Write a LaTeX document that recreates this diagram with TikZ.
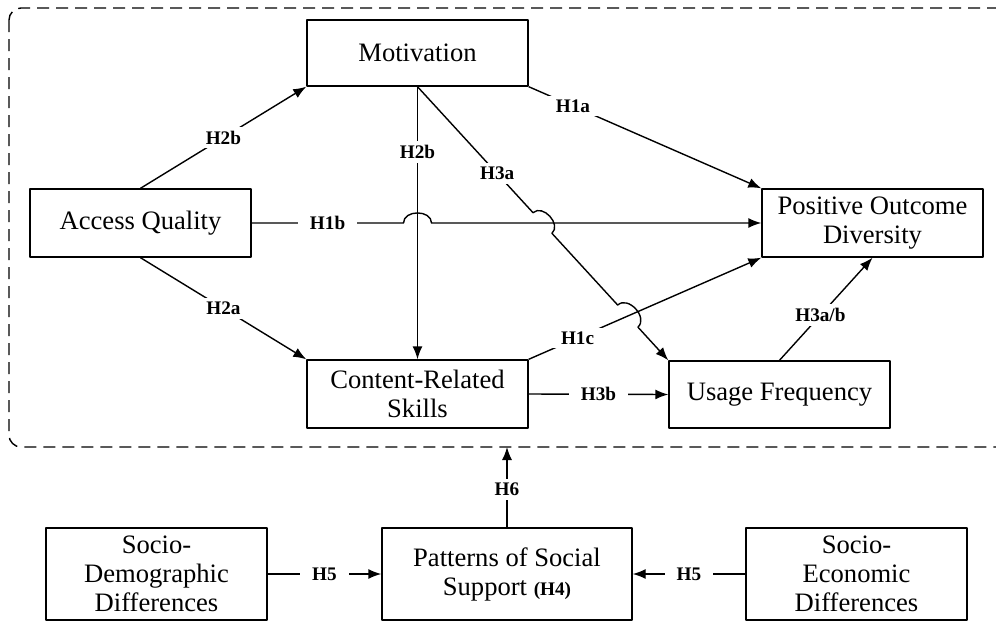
\documentclass[tikz,border=0pt]{standalone}
\usepackage{fontspec}
\setmainfont{Liberation Serif}
\usetikzlibrary{arrows.meta,calc}
\begin{document}
\begin{tikzpicture}[x=0.5pt, y=-0.5pt, line join=round, >={Latex[length=6.5pt,width=5pt]},
	box/.style={draw, line width=0.7pt, minimum width=110.5pt, align=center, inner sep=0pt, font=\fontsize{13.3}{14.5}\selectfont},
	lbl/.style={fill=white, inner xsep=6pt, inner ysep=2pt, font=\fontsize{9.6}{10}\selectfont\bfseries},
	conn/.style={line width=0.7pt}]
	\useasboundingbox (0,0) rectangle (996,621);
	\draw[line width=0.7pt, dash pattern=on 6pt off 3.5pt, rounded corners=6pt] (9,8) rectangle (1010,447);
	\coordinate (dbox) at (507,447);
	\node[box, minimum height=33pt] (mot) at (417.5,53) {Motivation};
	\node[box, minimum height=34pt] (aq) at (140.5,223) {Access Quality};
	\node[box, minimum height=34pt] (pod) at (872.5,223) {Positive Outcome\\Diversity};
	\node[box, minimum height=34pt] (crs) at (417.5,394) {Content-Related\\Skills};
	\node[box, minimum height=33.5pt] (uf) at (779.5,394.5) {Usage Frequency};
	\node[box, minimum height=46pt] (sd) at (156.5,574) {Socio-\\Demographic\\Differences};
	\node[box, minimum height=46pt, minimum width=125pt] (pat) at (507,574) {Patterns of Social\\Support {\fontsize{9.6}{10}\selectfont\bfseries (H4)}};
	\node[box, minimum height=46pt] (se) at (856.5,574) {Socio-\\Economic\\Differences};
	\draw[conn,->] (aq.north) -- node[lbl]{H2b} (mot.south west);
	\draw[conn,->] (aq.south) -- node[lbl]{H2a} (crs.north west);
	\draw[conn,->] (mot.south) -- node[lbl,pos=.24]{H2b} (crs.north);
	\draw[conn,->] (mot.south east) -- node[lbl,pos=.19]{H1a} (pod.north west);
	\draw[conn,->] (crs.north east) -- node[lbl,pos=.21]{H1c} (pod.south west);
	\draw[conn,->] (crs.east) -- node[lbl]{H3b} (uf.west);
	\draw[conn,->] (uf.north) -- node[lbl,pos=.44]{H3a/b} (pod.south);
	\draw[conn,->] (pat.north) -- node[lbl,pos=.47]{H6} (dbox);
	\draw[conn,->] (sd.east) -- node[lbl]{H5} (pat.west);
	\draw[conn,->] (se.west) -- node[lbl]{H5} (pat.east);
	\coordinate (j1) at (mot.south |- aq.east);
	\draw[conn,->] (aq.east) -- node[lbl]{H1b} ($(j1)+(-7pt,0pt)$) .. controls +(0pt,6.7pt) and +(0pt,6.7pt) .. ($(j1)+(7pt,0pt)$) -- (pod.west);
	\coordinate (j2) at (intersection of mot.south--uf.north west and aq.east--pod.west);
	\coordinate (j3) at (intersection of mot.south--uf.north west and crs.north east--pod.south west);
	\coordinate (a2) at ($(j2)!7pt!(mot.south)$);
	\coordinate (b2) at ($(j2)!7pt!(uf.north west)$);
	\coordinate (a3) at ($(j3)!7.5pt!(mot.south)$);
	\coordinate (b3) at ($(j3)!7.5pt!(uf.north west)$);
	\draw[conn,->] (mot.south) -- node[lbl,pos=.69]{H3a} (a2)
		.. controls ($(a2)!.95!90:(j2)$) and ($(b2)!.95!-90:(j2)$) .. (b2) -- (a3)
		.. controls ($(a3)!.95!90:(j3)$) and ($(b3)!.95!-90:(j3)$) .. (b3) -- (uf.north west);
\end{tikzpicture}
\end{document}
